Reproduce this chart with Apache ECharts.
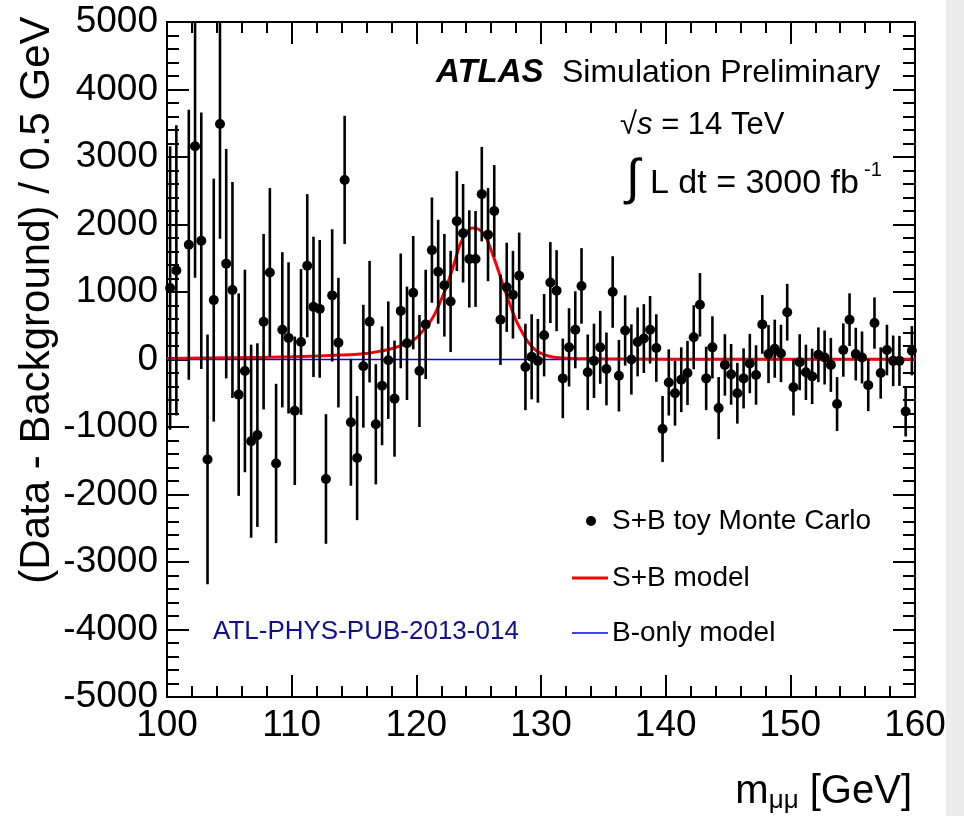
<!DOCTYPE html>
<html>
<head>
<meta charset="utf-8">
<script src="https://cdn.jsdelivr.net/npm/echarts@6/dist/echarts.min.js"></script>
<style>
html,body{margin:0;padding:0;background:#fff;}
#chart{width:964px;height:816px;}
</style>
</head>
<body>
<div id="chart"></div>
<script>
// Bin centres (0.5 GeV bins), m_mumu in GeV
const massBins = [
 100.25,100.75,101.25,101.75,102.25,102.75,103.25,103.75,104.25,104.75,
 105.25,105.75,106.25,106.75,107.25,107.75,108.25,108.75,109.25,109.75,
 110.25,110.75,111.25,111.75,112.25,112.75,113.25,113.75,114.25,114.75,
 115.25,115.75,116.25,116.75,117.25,117.75,118.25,118.75,119.25,119.75,
 120.25,120.75,121.25,121.75,122.25,122.75,123.25,123.75,124.25,124.75,
 125.25,125.75,126.25,126.75,127.25,127.75,128.25,128.75,129.25,129.75,
 130.25,130.75,131.25,131.75,132.25,132.75,133.25,133.75,134.25,134.75,
 135.25,135.75,136.25,136.75,137.25,137.75,138.25,138.75,139.25,139.75,
 140.25,140.75,141.25,141.75,142.25,142.75,143.25,143.75,144.25,144.75,
 145.25,145.75,146.25,146.75,147.25,147.75,148.25,148.75,149.25,149.75,
 150.25,150.75,151.25,151.75,152.25,152.75,153.25,153.75,154.25,154.75,
 155.25,155.75,156.25,156.75,157.25,157.75,158.25,158.75,159.25,159.75
];
// Data - Background (S+B toy Monte Carlo)
const toyValues = [
 1060,1320,null,1700,3160,1760,-1480,880,3490,1420,
 1030,-520,-170,-1210,-1120,560,1290,-1540,440,320,
 -760,260,1390,780,750,-1770,950,250,2660,-930,
 -1460,-100,560,-960,-390,-10,-580,720,240,990,
 -170,520,1620,1300,1100,860,2050,1870,1490,1490,
 2450,1850,2200,590,1070,960,1240,-110,40,-20,
 360,1140,1020,-280,180,440,1090,-190,-20,180,
 -140,1000,-240,430,0,260,310,440,170,-1030,
 -340,-500,-300,-200,330,810,-280,180,-720,-80,
 -220,-500,-280,-60,-230,520,80,160,90,700,
 -410,-40,-190,-250,70,30,-80,-660,140,590,
 80,30,-380,540,-200,140,-20,-20,-770,130
];
// Statistical error (half-length of bars)
const toyErrors = [
 2100,2150,2100,2000,1950,1900,1850,1800,1700,1700,
 1600,1500,1500,1430,1360,1300,1250,1180,1150,1120,
 1100,1080,1060,1040,1020,960,980,960,950,940,
 920,910,900,890,880,870,860,850,840,840,
 830,810,780,770,760,750,740,730,720,710,
 700,690,680,670,660,650,640,640,630,620,
 610,600,600,590,580,570,560,560,550,540,
 540,530,530,520,520,510,510,500,500,490,
 490,480,480,475,475,470,470,460,460,455,
 450,450,445,440,440,435,430,430,425,420,
 420,415,410,410,405,400,400,400,395,390,
 390,385,385,380,380,375,375,370,370,365
];
// S+B model curve
const modelMass = [100,105,110,113,115,116,117,118,119,119.5,120,120.5,121,121.5,122,122.5,123,123.5,124,124.5,125,125.5,126,126.5,127,127.5,128,128.5,129,129.5,130,130.5,131,132,134,140,150,160];
const modelValue = [15,25,40,60,75,90,120,160,220,260,320,420,530,680,890,1120,1400,1700,1880,1950,1930,1840,1620,1360,1080,820,580,400,250,150,90,55,35,20,10,5,4,3];
// B-only model
const bOnlyMass = [100,160];
const bOnlyValue = [0,0];

const FONT = '"Liberation Sans", Arial, sans-serif';

const points = [], bars = [];
massBins.forEach((m,i)=>{
  const v = toyValues[i];
  if (v === null || v === undefined) return;
  points.push([m, v]);
  bars.push([m, v - toyErrors[i], v + toyErrors[i]]);
});
const modelData = modelMass.map((m,i)=>[m, modelValue[i]]);
const bOnlyData = bOnlyMass.map((m,i)=>[m, bOnlyValue[i]]);

const tickStyle = {color:'#000', width:2};
function xAx(pos, showLabel){
  return {
    type:'value', position:pos, min:100, max:160, interval:10,
    axisLine:{show:true, onZero:false, lineStyle:tickStyle},
    axisTick:{show:true, inside:true, length:22, lineStyle:tickStyle},
    minorTick:{show:true, splitNumber:5, length:11, lineStyle:tickStyle},
    splitLine:{show:false},
    axisLabel:{show:showLabel, color:'#000', fontSize:37, fontFamily:FONT, margin:10, formatter:v=>String(v)}
  };
}
function yAx(pos, showLabel){
  return {
    type:'value', position:pos, min:-5000, max:5000, interval:1000,
    axisLine:{show:true, onZero:false, lineStyle:tickStyle},
    axisTick:{show:true, inside:true, length:22, lineStyle:tickStyle},
    minorTick:{show:true, splitNumber:5, length:12, lineStyle:tickStyle},
    splitLine:{show:false},
    axisLabel:{show:showLabel, color:'#000', fontSize:37, fontFamily:FONT, margin:9, formatter:v=>String(v)}
  };
}

const chart = echarts.init(document.getElementById('chart'), null, {renderer:'canvas'});
chart.setOption({
  animation:false,
  backgroundColor:'#fff',
  grid:{left:167, right:49, top:22, bottom:119, containLabel:false},
  xAxis:[xAx('bottom', true), xAx('top', false)],
  yAxis:[yAx('left', true), yAx('right', false)],
  series:[
    {type:'line', name:'B-only model', data:bOnlyData, showSymbol:false, symbol:'none',
     lineStyle:{color:'#0000ff', width:1.6}, z:2},
    {type:'line', name:'S+B model', data:modelData, smooth:0.35, showSymbol:false, symbol:'none',
     lineStyle:{color:'#ff0000', width:3}, z:3},
    {type:'custom', name:'errors', data:bars, clip:true, z:4,
     encode:{x:0, y:[1,2]},
     renderItem:function(params, api){
       const x = api.value(0);
       const p1 = api.coord([x, api.value(1)]);
       const p2 = api.coord([x, api.value(2)]);
       return {type:'line', shape:{x1:p1[0], y1:p1[1], x2:p2[0], y2:p2[1]},
               style:{stroke:'#000', lineWidth:2.6}};
     }},
    {type:'scatter', name:'S+B toy Monte Carlo', data:points, symbol:'circle', symbolSize:10,
     itemStyle:{color:'#000', opacity:1}, z:5}
  ],
  graphic:[
    {type:'rect', left:946, top:0, shape:{width:18, height:816}, style:{fill:'#ececec'}, silent:true},
    // y-axis title
    {type:'text', x:37, y:300, rotation:Math.PI/2, style:{text:'(Data - Background) / 0.5 GeV', font:'42px '+FONT, fill:'#000', textAlign:'center', textVerticalAlign:'middle'}},
    // x-axis title
    {type:'text', right:52, top:772, style:{rich:{m:{fontSize:40, fontFamily:FONT, fill:'#000'}, s:{fontSize:26, fontFamily:FONT, fill:'#000', padding:[18,0,0,0]}}, text:'{m|m}{s|μμ}{m| [GeV]}', fill:'#000'}},
    // ATLAS label
    {type:'text', x:436, y:73, style:{text:'ATLAS', font:'italic bold 33px '+FONT, fill:'#000', textVerticalAlign:'middle'}},
    {type:'text', x:562, y:73, style:{text:'Simulation Preliminary', font:'32px '+FONT, fill:'#000', textVerticalAlign:'middle'}},
    {type:'text', x:620, y:125, style:{rich:{n:{fontSize:31, fontFamily:FONT, fill:'#000'}, i:{fontSize:31, fontFamily:FONT, fontStyle:'italic', fill:'#000'}}, text:'{n|√}{i|s}{n| = 14 TeV}', textVerticalAlign:'middle'}},
    {type:'text', x:626, y:180, style:{text:'∫', font:'50px '+FONT, fill:'#000', textVerticalAlign:'middle'}},
    {type:'text', x:650, y:184, style:{text:'L dt = 3000 fb', font:'34px '+FONT, fill:'#000', textVerticalAlign:'middle'}},
    {type:'text', x:864, y:170, style:{text:'-1', font:'20px '+FONT, fill:'#000', textVerticalAlign:'middle'}},
    // legend
    {type:'circle', shape:{cx:591, cy:521, r:5}, style:{fill:'#000'}},
    {type:'text', x:612, y:521, style:{text:'S+B toy Monte Carlo', font:'28px '+FONT, fill:'#000', textVerticalAlign:'middle'}},
    {type:'line', shape:{x1:572, y1:578, x2:608, y2:578}, style:{stroke:'#ff0000', lineWidth:3}},
    {type:'text', x:612, y:578, style:{text:'S+B model', font:'28px '+FONT, fill:'#000', textVerticalAlign:'middle'}},
    {type:'line', shape:{x1:572, y1:633, x2:608, y2:633}, style:{stroke:'#0000ff', lineWidth:1.6}},
    {type:'text', x:612, y:633, style:{text:'B-only model', font:'28px '+FONT, fill:'#000', textVerticalAlign:'middle'}},
    // reference number
    {type:'text', x:213, y:632, style:{text:'ATL-PHYS-PUB-2013-014', font:'26px '+FONT, fill:'#10108c', textVerticalAlign:'middle'}}
  ]
});
</script>
</body>
</html>
